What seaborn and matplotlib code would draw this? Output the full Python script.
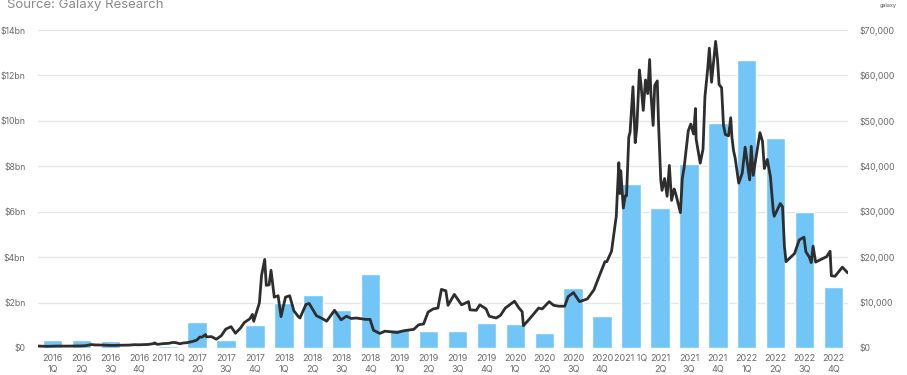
import pandas as pd
import numpy as np
import matplotlib
matplotlib.use("Agg")
import matplotlib.pyplot as plt
import seaborn as sns

# 분기별 막대 (좌축, $bn)
quarters = ["2016\n1Q", "2016\n2Q", "2016\n3Q", "2016\n4Q", "2017 1Q", "2017\n2Q", "2017\n3Q", "2017\n4Q",
            "2018\n1Q", "2018\n2Q", "2018\n3Q", "2018\n4Q", "2019\n1Q", "2019\n2Q", "2019\n3Q", "2019\n4Q",
            "2020\n1Q", "2020\n2Q", "2020\n3Q", "2020\n4Q", "2021 1Q", "2021\n2Q", "2021\n3Q", "2021\n4Q",
            "2022\n1Q", "2022\n2Q", "2022\n3Q", "2022\n4Q"]
bar_values = [0.35, 0.36, 0.29, 0.05, 0.08, 1.15, 0.35, 1.0,
              2.0, 2.35, 1.67, 3.26, 0.82, 0.73, 0.75, 1.11,
              1.04, 0.65, 2.66, 1.42, 7.22, 6.18, 8.09, 9.92,
              12.69, 9.24, 5.98, 2.70]

# 가격 라인 (우축, $)
price_dates = [
    "2016-01-01", "2016-01-15", "2016-02-01", "2016-02-15", "2016-03-01", "2016-03-15", "2016-04-01", "2016-04-15",
    "2016-05-01", "2016-05-15", "2016-06-01", "2016-06-16", "2016-06-30", "2016-07-15", "2016-08-01", "2016-08-15",
    "2016-09-01", "2016-09-15", "2016-10-01", "2016-10-15", "2016-11-01", "2016-11-15", "2016-12-01", "2016-12-15",
    "2016-12-31",
    "2017-01-04", "2017-01-12", "2017-01-31", "2017-02-15", "2017-03-01", "2017-03-10", "2017-03-24", "2017-04-01",
    "2017-04-15", "2017-05-01", "2017-05-15", "2017-05-25", "2017-06-01", "2017-06-12", "2017-06-15", "2017-07-01",
    "2017-07-16", "2017-08-01", "2017-08-15", "2017-09-01", "2017-09-15", "2017-10-01", "2017-10-13", "2017-10-31",
    "2017-11-08", "2017-11-12", "2017-11-30", "2017-12-07", "2017-12-17", "2017-12-22", "2017-12-31",
    "2018-01-06", "2018-01-16", "2018-01-28", "2018-02-06", "2018-02-20", "2018-03-05", "2018-03-18", "2018-04-01",
    "2018-04-06", "2018-04-25", "2018-05-05", "2018-05-28", "2018-06-15", "2018-06-29", "2018-07-24", "2018-08-14",
    "2018-08-31", "2018-09-15", "2018-10-01", "2018-10-31", "2018-11-14", "2018-11-25", "2018-12-15", "2018-12-31",
    "2019-01-15", "2019-02-07", "2019-02-28", "2019-03-31", "2019-04-15", "2019-05-01", "2019-05-15", "2019-05-31",
    "2019-06-15", "2019-06-26", "2019-07-10", "2019-07-17", "2019-08-06", "2019-08-29", "2019-09-20", "2019-09-25",
    "2019-10-15", "2019-10-26", "2019-11-15", "2019-11-25", "2019-12-17", "2019-12-31",
    "2020-01-15", "2020-02-13", "2020-02-27", "2020-03-08", "2020-03-12", "2020-03-31", "2020-04-29", "2020-05-10",
    "2020-06-01", "2020-06-15", "2020-07-01", "2020-07-20", "2020-07-31", "2020-08-17", "2020-09-05", "2020-09-30",
    "2020-10-21", "2020-11-05", "2020-11-25", "2020-12-01", "2020-12-16", "2020-12-31",
    "2021-01-08", "2021-01-11", "2021-01-14", "2021-01-22", "2021-01-28", "2021-02-01", "2021-02-08", "2021-02-12",
    "2021-02-21", "2021-02-28", "2021-03-05", "2021-03-13", "2021-03-18", "2021-03-25", "2021-04-01", "2021-04-08",
    "2021-04-14", "2021-04-18", "2021-04-25", "2021-04-30", "2021-05-08", "2021-05-12", "2021-05-19", "2021-05-23",
    "2021-05-31", "2021-06-08", "2021-06-15", "2021-06-22", "2021-06-30", "2021-07-05", "2021-07-20", "2021-07-26",
    "2021-08-01", "2021-08-14", "2021-08-22", "2021-08-31", "2021-09-06", "2021-09-08", "2021-09-21", "2021-09-30",
    "2021-10-06", "2021-10-15", "2021-10-20", "2021-10-27", "2021-10-31", "2021-11-09", "2021-11-15", "2021-11-20",
    "2021-11-28", "2021-12-04", "2021-12-10", "2021-12-20", "2021-12-27", "2021-12-31",
    "2022-01-05", "2022-01-10", "2022-01-21", "2022-02-01", "2022-02-10", "2022-02-24", "2022-03-01", "2022-03-07",
    "2022-03-28", "2022-04-05", "2022-04-11", "2022-04-20", "2022-04-30", "2022-05-09", "2022-05-12", "2022-05-31",
    "2022-06-07", "2022-06-13", "2022-06-18", "2022-06-30", "2022-07-15", "2022-07-30", "2022-08-14", "2022-08-20",
    "2022-08-31", "2022-09-06", "2022-09-12", "2022-09-20", "2022-10-01", "2022-10-25", "2022-11-05", "2022-11-09",
    "2022-11-21", "2022-12-14", "2022-12-31",
]
price_values = [
    430, 390, 370, 400, 430, 415, 415, 430,
    450, 455, 535, 760, 670, 660, 620, 570,
    575, 610, 615, 640, 730, 710, 755, 780,
    960,
    1130, 800, 970, 1010, 1220, 1190, 930, 1080,
    1180, 1420, 1720, 2400, 2400, 2950, 2450, 2500,
    1930, 2720, 4150, 4700, 3250, 4400, 5600, 6450,
    7400, 5900, 9900, 16000, 19500, 13800, 13900,
    17100, 11200, 11500, 6900, 11200, 11500, 8200, 6900,
    6600, 9600, 9800, 7100, 6500, 5900, 8300, 6200,
    7000, 6500, 6600, 6300, 6300, 3900, 3200, 3700,
    3600, 3400, 3800, 4100, 5100, 5300, 7900, 8600,
    8800, 12900, 12600, 9400, 11800, 9500, 10200, 8400,
    8300, 9500, 8600, 7000, 6600, 7200,
    8800, 10300, 8800, 8000, 4900, 6400, 8800, 8600,
    10200, 9400, 9200, 9200, 11300, 12200, 10200, 10800,
    12800, 15500, 19000, 19000, 21300, 29000,
    40800, 34000, 39000, 30800, 33500, 33500, 46400, 47500,
    57500, 45200, 48500, 61200, 58000, 52300, 59000, 56000,
    63500, 56000, 49000, 57800, 58800, 49500, 37000, 34700,
    37300, 33400, 40200, 32500, 35000, 34000, 29800, 37300,
    39800, 47800, 49300, 47100, 52700, 46000, 40700, 43800,
    55300, 61600, 66000, 58500, 61300, 67500, 63500, 58000,
    57300, 49000, 47000, 46700, 50700, 46300,
    43400, 41800, 36300, 38500, 44200, 37000, 44400, 38000,
    47400, 45500, 39500, 41500, 37700, 30100, 29000, 31800,
    31100, 22400, 19000, 19800, 20800, 23800, 24400, 21200,
    20000, 18800, 22400, 18900, 19300, 20100, 21300, 15900,
    15800, 17800, 16550,
]

BAR_COLOR = "#72C5F7"
LINE_COLOR = "#2e2e2e"
TEXT_COLOR = "#6b6b6b"

sns.set_theme(style="white")
plt.rcParams['font.family'] = ['Inter', 'DejaVu Sans']

fig = plt.figure(figsize=(9.07, 3.75), dpi=100)
ax = fig.add_axes([38 / 907, 27 / 375, 810 / 907, 318 / 375])

bars = pd.DataFrame({"quarter": quarters, "value": bar_values})
sns.barplot(data=bars, x="quarter", y="value", color=BAR_COLOR, width=0.67,
            saturation=1, ax=ax, zorder=2)
ax.set_xlim(-0.5, 27.5)
ax.set_ylim(0, 14)
ax.set_yticks(range(0, 15, 2))
ax.set_yticklabels(["$0"] + [f"${v}bn" for v in range(2, 15, 2)])
ax.yaxis.grid(True, color="#e6e6e6", linewidth=1, zorder=0)
ax.xaxis.grid(False)
ax.set_axisbelow(True)
ax.set_xlabel("")
ax.set_ylabel("")
ax.tick_params(axis="y", length=0, pad=9, labelsize=6.3, labelcolor=TEXT_COLOR)
ax.tick_params(axis="x", length=0, pad=4, labelsize=6.5, labelcolor=TEXT_COLOR)
for lbl in ax.get_xticklabels():
    lbl.set_linespacing(1.3)
for s in ax.spines.values():
    s.set_visible(False)

# 날짜 -> 분기 위치 변환
dates = pd.to_datetime(price_dates)
qstart = dates.to_period("Q").start_time
qend = (dates.to_period("Q") + 1).start_time
frac = (dates - qstart) / (qend - qstart)
qidx = (dates.year - 2016) * 4 + (dates.quarter - 1)
line_df = pd.DataFrame({"x": qidx + frac - 0.5, "price": price_values})

ax2 = ax.twinx()
sns.lineplot(data=line_df, x="x", y="price", color=LINE_COLOR, linewidth=2.0, ax=ax2)
ax2.set_ylim(0, 70000)
ax2.set_yticks(range(0, 70001, 10000))
ax2.set_yticklabels(["$0"] + [f"${v:,}" for v in range(10000, 70001, 10000)])
ax2.set_xlim(-0.5, 27.5)
ax2.set_xlabel("")
ax2.set_ylabel("")
ax2.grid(False)
ax2.tick_params(axis="y", length=0, pad=8, labelsize=6.3, labelcolor=TEXT_COLOR)
for s in ax2.spines.values():
    s.set_visible(False)

fig.text(7 / 907, 1 - 5 / 375, "Source: Galaxy Research", fontsize=9.5, color="#8a8a8a",
         ha="left", va="center")
fig.text(888 / 907, 1 - 5 / 375, "galaxy", fontsize=4, color="#555555", ha="center", va="center")

fig.savefig("out.png", dpi=100)
plt.close(fig)
